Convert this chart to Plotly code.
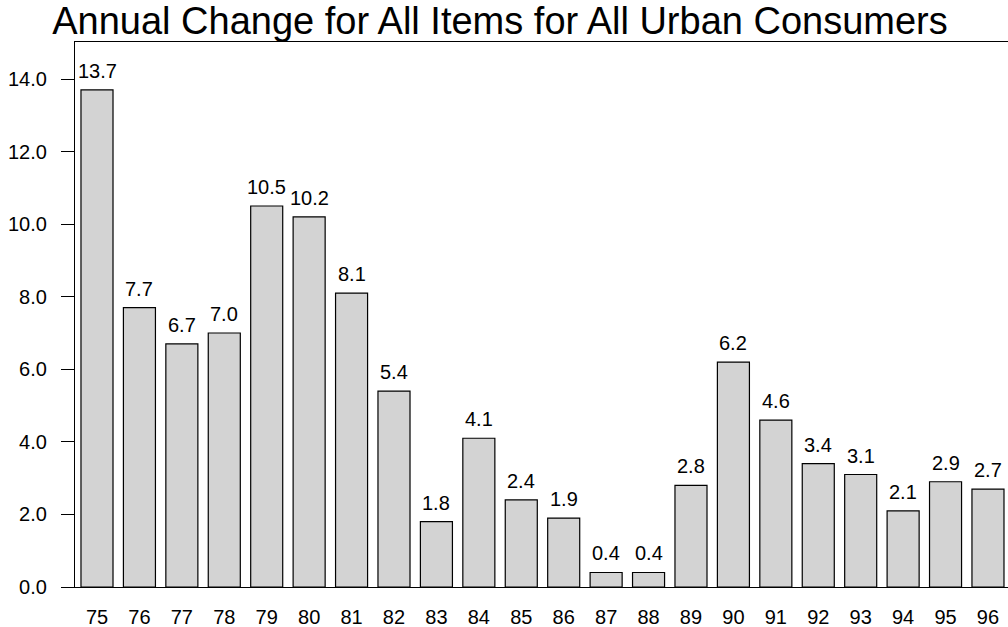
import plotly.graph_objects as go

years = ["75", "76", "77", "78", "79", "80", "81", "82", "83", "84", "85",
         "86", "87", "88", "89", "90", "91", "92", "93", "94", "95", "96"]
changes = [13.7, 7.7, 6.7, 7.0, 10.5, 10.2, 8.1, 5.4, 1.8, 4.1, 2.4,
           1.9, 0.4, 0.4, 2.8, 6.2, 4.6, 3.4, 3.1, 2.1, 2.9, 2.7]
ytick_vals = [0, 2, 4, 6, 8, 10, 12, 14]
ytick_text = ["0.0", "2.0", "4.0", "6.0", "8.0", "10.0", "12.0", "14.0"]
title_text = "Annual Change for All Items for All Urban Consumers"

FONT = "Liberation Sans, Arial, Helvetica, sans-serif"

W, H = 1008, 627

fig = go.Figure()
fig.add_trace(go.Bar(
    x=list(range(len(years))),
    y=changes,
    marker=dict(color="#D3D3D3", line=dict(color="black", width=1.2)),
    width=0.755,
    hoverinfo="skip",
))

for i, v in enumerate(changes):
    fig.add_annotation(
        x=i, y=v, xref="x", yref="y",
        text=f"{v:.1f}", showarrow=False,
        yanchor="bottom", yshift=6,
        font=dict(family=FONT, size=20, color="black"),
    )

fig.update_layout(
    width=W, height=H,
    margin=dict(l=75, r=0, t=42, b=40),
    paper_bgcolor="white", plot_bgcolor="white",
    showlegend=False,
    font=dict(family=FONT, size=20, color="black"),
    title=dict(
        text=title_text,
        font=dict(family=FONT, size=38, color="black"),
        xref="container", yref="container",
        x=500 / W, xanchor="center",
        y=1 - 21 / H, yanchor="middle",
    ),
    xaxis=dict(
        range=[-0.5185, 21.472],
        tickmode="array",
        tickvals=list(range(len(years))),
        ticktext=years,
        ticks="",
        showgrid=False, zeroline=False,
        showline=True, mirror=True, linecolor="black", linewidth=1.2,
        ticklabelstandoff=12,
        tickfont=dict(family=FONT, size=20, color="black"),
    ),
    yaxis=dict(
        range=[0, 15.02],
        tickmode="array",
        tickvals=ytick_vals,
        ticktext=ytick_text,
        ticks="outside", ticklen=13, tickwidth=1.2, tickcolor="black",
        showgrid=False, zeroline=False,
        showline=True, mirror=False, linecolor="black", linewidth=1.2,
        ticklabelstandoff=10,
        tickfont=dict(family=FONT, size=20, color="black"),
    ),
)

fig.write_html(
    "out.html",
    config={"displayModeBar": False},
    post_script="document.body.style.margin='0';",
)
